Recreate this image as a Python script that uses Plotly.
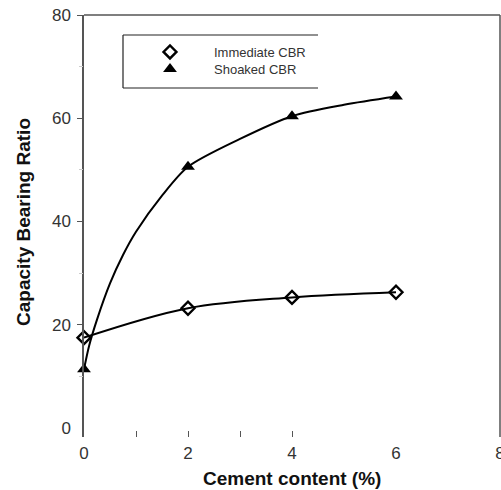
import plotly.graph_objects as go

# measured data points
cement = [0, 2, 4, 6]
immediate_cbr = [17.5, 23.2, 25.3, 26.3]
soaked_cbr = [11.4, 50.6, 60.4, 64.2]

# trend curves
soaked_curve_x = [0, 0.1, 0.25, 0.5, 0.75, 1, 1.5, 2, 3, 4, 5, 6]
soaked_curve_y = [11.4, 16, 21, 28, 33.5, 38, 45, 50.6, 56, 60.4, 62.6, 64.2]
immediate_curve_x = [0, 2, 4, 6]
immediate_curve_y = [17.5, 23.2, 25.3, 26.3]

x_tick_vals = [0, 2, 4, 6, 8]
x_minor_ticks = [1, 2, 3, 4]
y_tick_vals = [0, 20, 40, 60, 80]
y_major_ticks = [20, 40, 60, 80]
y_minor_ticks = [10, 30, 50, 70]

x_title = "<b>Cement content (%)</b>"
y_title = "<b>Capacity Bearing Ratio</b>"

W, H = 501, 490
ML, MR, MT, MB = 84, 1, 15, 53
PW, PH = W - ML - MR, H - MT - MB


def px(x):
    return (x - ML) / PW


def py(y):
    return (H - MB - y) / PH


fig = go.Figure()
fig.add_trace(go.Scatter(
    x=immediate_curve_x, y=immediate_curve_y, mode="lines", showlegend=False,
    line=dict(color="black", width=2, shape="spline", smoothing=1), cliponaxis=False))
fig.add_trace(go.Scatter(
    x=soaked_curve_x, y=soaked_curve_y, mode="lines", showlegend=False,
    line=dict(color="black", width=2, shape="spline", smoothing=0.8), cliponaxis=False))
fig.add_trace(go.Scatter(
    x=cement, y=immediate_cbr, name="Immediate CBR", mode="markers", legend="legend",
    marker=dict(symbol="diamond-open", size=10, color="black", line=dict(width=2.4, color="black")),
    cliponaxis=False))
fig.add_trace(go.Scatter(
    x=cement, y=soaked_cbr, name="Shoaked CBR", mode="markers", legend="legend2",
    marker=dict(symbol="triangle-up", size=12, color="black"),
    cliponaxis=False))
# carrier for tick-only overlay axes
fig.add_trace(go.Scatter(x=[None], y=[None], xaxis="x2", yaxis="y2", showlegend=False))

legend_common = dict(xanchor="left", yanchor="top", bgcolor="rgba(0,0,0,0)",
                     borderwidth=0, itemwidth=78, font=dict(size=13, color="#333"))

fig.update_layout(
    width=W, height=H, template="none",
    paper_bgcolor="white", plot_bgcolor="white",
    margin=dict(l=ML, r=MR, t=MT, b=MB, autoexpand=False),
    font=dict(family="Liberation Sans, Arial", color="#333"),
    xaxis=dict(range=[0, 8], tickvals=x_tick_vals, ticks="outside", ticklen=1,
               tickcolor="rgba(0,0,0,0)", showline=False, ticklabeloverflow="allow",
               showgrid=False, zeroline=False, automargin=False,
               tickfont=dict(size=17, color="#333")),
    xaxis2=dict(range=[0, 8], overlaying="x", anchor="y", side="bottom",
                tickvals=x_minor_ticks, ticks="inside", ticklen=6, tickcolor="#555", tickwidth=1.3,
                showticklabels=False, showgrid=False, zeroline=False, showline=False),
    yaxis=dict(range=[-1.74, 80], tickvals=y_tick_vals, ticks="outside", ticklen=8,
               tickcolor="rgba(0,0,0,0)", showline=True, linecolor="#555", linewidth=1.5,
               showgrid=False, zeroline=False, automargin=False,
               tickfont=dict(size=17, color="#333")),
    yaxis2=dict(range=[-1.74, 80], overlaying="y", anchor="x", side="left",
                tickvals=y_major_ticks, ticks="outside", ticklen=6, tickcolor="#555", tickwidth=1.3,
                minor=dict(tickvals=y_minor_ticks, ticks="outside", ticklen=4, tickcolor="#ccc"),
                showticklabels=False, showgrid=False, zeroline=False, showline=False),
    legend=dict(x=px(126), y=py(37), **legend_common),
    legend2=dict(x=px(126), y=py(54), **legend_common),
    showlegend=True,
)

fig.add_annotation(text=x_title, xref="paper", yref="paper", x=px(292), y=py(478),
                   xanchor="center", yanchor="middle", showarrow=False,
                   font=dict(size=19, color="#111"))
fig.add_annotation(text=y_title, xref="paper", yref="paper", x=px(23), y=py(222),
                   xanchor="center", yanchor="middle", showarrow=False, textangle=-90,
                   font=dict(size=19, color="#111"))

# frame: top and right lines
fig.add_shape(type="line", xref="paper", yref="paper", x0=0, x1=1, y0=1, y1=1,
              line=dict(color="#555", width=1.5))
fig.add_shape(type="line", xref="paper", yref="paper", x0=1, x1=1, y0=0, y1=1,
              line=dict(color="#555", width=1.5))
# legend box (no right border)
lx0, lx1, ly0, ly1 = px(123), px(318), py(88), py(35)
for x0, x1, y0, y1 in [(lx0, lx1, ly1, ly1), (lx0, lx1, ly0, ly0), (lx0, lx0, ly0, ly1)]:
    fig.add_shape(type="line", xref="paper", yref="paper", x0=x0, x1=x1, y0=y0, y1=y1,
                  line=dict(color="#222", width=1.2))

fig.write_html("out.html", config={"displayModeBar": False},
               post_script="document.body.style.margin='0px';document.body.style.overflow='hidden';")
